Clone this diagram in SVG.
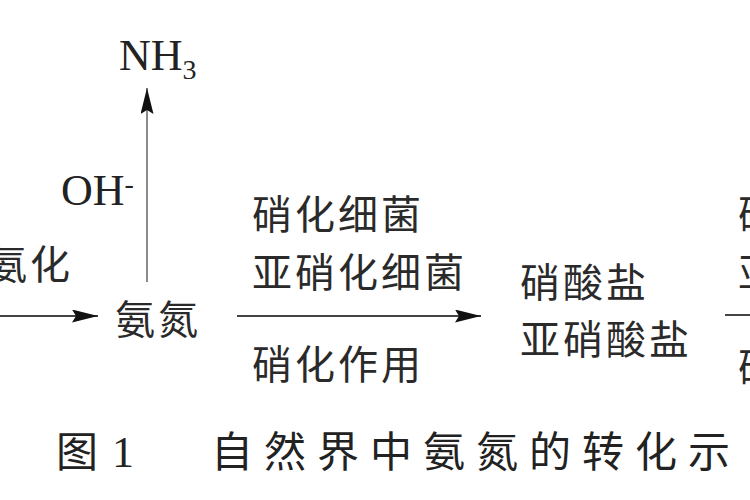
<svg xmlns="http://www.w3.org/2000/svg" width="750" height="500" viewBox="0 0 750 500">
  <style>
    .cjk { font-family: "Noto Sans CJK SC", "Noto Sans CJK JP", sans-serif; font-size: 40px; fill: #2a2a2a; letter-spacing: 3px; }
    .cap { font-family: "Noto Sans CJK SC", "Noto Sans CJK JP", sans-serif; font-size: 42px; fill: #222; }
    .lat { font-family: "Liberation Serif", "Times New Roman", serif; font-size: 44px; fill: #222; }
    .ln { stroke: #444; stroke-width: 2; fill: none; }
    .vln { stroke: #8a8a8a; stroke-width: 2; fill: none; }
  </style>
  <defs>
    <marker id="ah" markerUnits="userSpaceOnUse" markerWidth="26" markerHeight="13" refX="26" refY="6.5" orient="auto">
      <path d="M0,0 L26,6.5 L0,13 L4,6.5 z" fill="#111"/>
    </marker>
  </defs>
  <rect width="750" height="500" fill="#ffffff"/>

  <g id="connectors">
    <line class="ln" x1="0" y1="316" x2="98" y2="316" marker-end="url(#ah)"/>
    <line class="vln" x1="147" y1="282" x2="147" y2="88" marker-end="url(#ah)"/>
    <line class="ln" x1="237" y1="316" x2="481" y2="316" marker-end="url(#ah)"/>
    <line class="ln" x1="725" y1="315" x2="750" y2="315"/>
  </g>

  <g id="label-ammonification">
    <text class="cjk" x="-13" y="279">氨化</text>
  </g>

  <g id="node-ammonia-nitrogen">
    <text class="cjk" x="115" y="334">氨氮</text>
  </g>

  <g id="node-nh3">
    <text class="lat" x="119" y="70">NH<tspan font-size="28" dy="9">3</tspan></text>
  </g>

  <g id="label-oh">
    <text class="lat" x="61" y="205">OH<tspan font-size="28" dy="-12">-</tspan></text>
  </g>

  <g id="label-nitrification">
    <text class="cjk" x="252" y="229">硝化细菌</text>
    <text class="cjk" x="252" y="287">亚硝化细菌</text>
    <text class="cjk" x="252" y="379">硝化作用</text>
  </g>

  <g id="node-nitrate">
    <text class="cjk" x="520" y="297">硝酸盐</text>
    <text class="cjk" x="520" y="354">亚硝酸盐</text>
  </g>

  <g id="label-right">
    <text class="cjk" x="738" y="229">硝</text>
    <text class="cjk" x="738" y="287">亚</text>
    <text class="cjk" x="738" y="382">硝</text>
  </g>

  <g id="caption">
    <text class="cap" x="56" y="467">图</text>
    <text class="lat" x="112" y="467" font-size="40">1</text>
    <text class="cap" x="211" y="467" letter-spacing="11">自然界中氨氮的转化示</text>
  </g>
</svg>
